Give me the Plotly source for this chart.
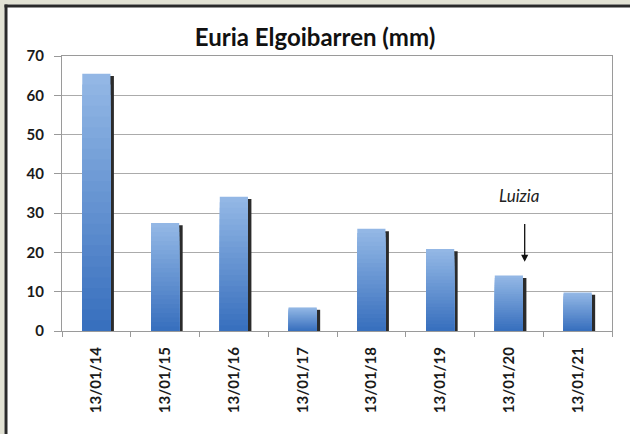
import plotly.graph_objects as go

# ---- data ----
categories = ["13/01/14", "13/01/15", "13/01/16", "13/01/17",
              "13/01/18", "13/01/19", "13/01/20", "13/01/21"]
rain_mm = [65.5, 27.5, 34.2, 6.0, 26.0, 20.9, 14.1, 9.8]
y_ticks = [0, 10, 20, 30, 40, 50, 60, 70]
title_text = "Euria Elgoibarren (mm)"
note_text = "Luizia"
note_index = 6

# ---- layout geometry (pixels) ----
W, H = 630, 434
ML, MR, MT, MB = 62, 18, 56, 103
PW, PH = W - ML - MR, H - MT - MB


def px(x):
    return (x - ML) / PW


def py(y):
    return (H - MB - y) / PH


fig = go.Figure()

bw = 0.41

# shadow bars (dark right edge)
fig.add_trace(go.Bar(
    x=categories, y=[v - 0.6 for v in rain_mm], width=bw, offset=-bw / 2 + 0.05,
    marker=dict(color="#2b2b2b", line=dict(width=0)), hoverinfo="skip",
    showlegend=False))

# gradient bars: nested bars from full height (light) down to short (dark)
n = 24
top = (0x95, 0xB9, 0xE6)
bot = (0x36, 0x6E, 0xBD)
for i in range(n):
    frac = (n - i) / n
    t = (n - i - 0.5) / n
    c = tuple(int(round(bot[k] + (top[k] - bot[k]) * t)) for k in range(3))
    fig.add_trace(go.Bar(
        x=categories,
        y=[v * frac for v in rain_mm],
        width=bw, offset=-bw / 2,
        marker=dict(color="rgb(%d,%d,%d)" % c, line=dict(width=0)),
        hoverinfo="skip", showlegend=False))

tick_font = dict(size=15, color="#1a1a1a", weight="bold")

fig.update_layout(
    width=W, height=H,
    margin=dict(l=ML, r=MR, t=MT, b=MB),
    paper_bgcolor="white", plot_bgcolor="white",
    barmode="overlay",
    showlegend=False,
    font=dict(family="Lato, Carlito, Liberation Sans, sans-serif", color="#1a1a1a"),
    title=dict(text="<b>%s</b>" % title_text, x=0.5, xanchor="center",
               y=1 - 38 / H, yanchor="middle",
               font=dict(size=24, color="#111")),
    xaxis=dict(
        type="category", tickangle=-90, tickson="boundaries",
        ticks="outside", ticklen=5, tickcolor="#999",
        showline=True, linecolor="#9a9a9a", linewidth=1, mirror=True,
        showgrid=False, tickfont=tick_font,
        ticklabelstandoff=9,
        range=[-0.5, len(categories) - 0.5]),
    yaxis=dict(
        range=[0, 70], tickvals=y_ticks, ticks="outside", ticklen=7,
        tickcolor="#999", showline=True, linecolor="#9a9a9a", linewidth=1,
        mirror=True, showgrid=True, gridcolor="#ababab", gridwidth=1,
        zeroline=False, tickfont=tick_font,
        ticklabelstandoff=7),
)

# annotation text and arrow
fig.add_annotation(x=note_index + 0.15, y=34.6, text="<i>%s</i>" % note_text,
                   showarrow=False, font=dict(size=17, color="#222"))
fig.add_annotation(x=note_index + 0.23, y=17.6, ax=note_index + 0.23, ay=27.6,
                   axref="x", ayref="y", text="", showarrow=True,
                   arrowhead=2, arrowsize=1.1, arrowwidth=1.3, arrowcolor="#111")

# outer frame: beige strips at top/left, dark border line
fig.add_shape(type="rect", xref="paper", yref="paper",
              x0=px(0), x1=px(W), y0=py(0), y1=py(4.5),
              fillcolor="#e2e2d4", line=dict(width=0), layer="below")
fig.add_shape(type="rect", xref="paper", yref="paper",
              x0=px(0), x1=px(4.5), y0=py(0), y1=py(H),
              fillcolor="#e2e2d4", line=dict(width=0), layer="below")
fig.add_shape(type="line", xref="paper", yref="paper",
              x0=px(4.5), x1=px(W), y0=py(6), y1=py(6),
              line=dict(color="#2a2a2a", width=3))
fig.add_shape(type="line", xref="paper", yref="paper",
              x0=px(6), x1=px(6), y0=py(4.5), y1=py(H),
              line=dict(color="#2a2a2a", width=3))

fig.write_html("out.html",
               config={"displayModeBar": False},
               post_script="document.body.style.margin='0';"
                           "document.body.style.overflow='hidden';")
